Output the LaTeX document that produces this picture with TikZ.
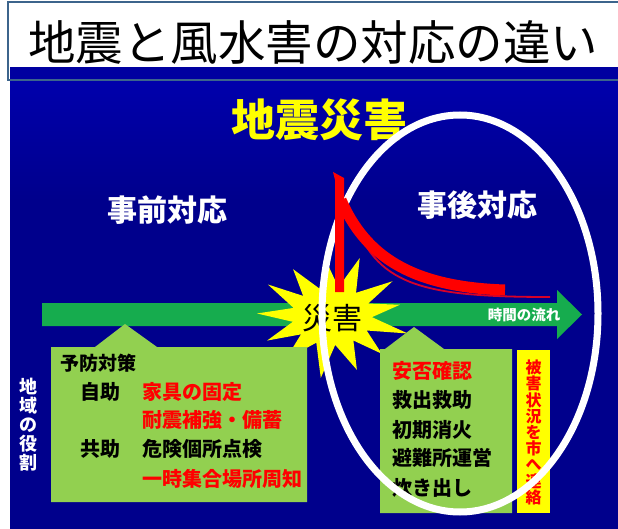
\documentclass[tikz,border=0pt]{standalone}
\usepackage{fontspec}
\newfontfamily\jp{Noto Sans CJK JP}
\definecolor{bgblue}{RGB}{0,0,140}
\definecolor{bgtop}{RGB}{0,0,172}
\definecolor{bandblue}{RGB}{0,0,160}
\definecolor{framecol}{RGB}{60,100,140}
\definecolor{arrowgreen}{RGB}{22,172,78}
\definecolor{boxgreen}{RGB}{146,208,80}
\definecolor{staryellow}{RGB}{255,255,0}
\definecolor{hotred}{RGB}{255,0,0}
\definecolor{darkred}{RGB}{215,0,40}
\tikzset{
  txt/.style={inner sep=0pt, font=\jp},
  boxtxt/.style={txt, anchor=west, font=\jp\bfseries\fontsize{20}{20}\selectfont},
  vtxt/.style={txt, align=center},
}
\begin{document}
\begin{tikzpicture}[x=1pt,y=-1pt]
\useasboundingbox (0,0) rectangle (618,529);
\fill[white] (0,0) rectangle (618,529);
% background
\fill[bgblue] (10,67) rectangle (618,529);
\shade[top color=bgtop, bottom color=bgblue] (10,80) rectangle (618,200);
\fill[bandblue] (10,67) rectangle (618,80);
\draw[framecol, line width=1.2] (640,2) -- (8,2) -- (8,80) -- (640,80);
% title
\node[txt, font=\jp\fontsize{47.5}{47.5}\selectfont] (title) at (313,42) {地震と風水害の対応の違い};
\node[txt, font=\jp\bfseries\fontsize{44}{44}\selectfont, text=staryellow] (head) at (319,120) {地震災害};
\node[txt, font=\jp\bfseries\fontsize{30}{30}\selectfont, text=white] (pre) at (167,210) {事前対応};
\node[txt, font=\jp\bfseries\fontsize{30}{30}\selectfont, text=white] (post) at (477,205) {事後対応};
% time arrow
\fill[arrowgreen] (42,303) -- (557,303) -- (557,290) -- (582,314.5) -- (557,339) -- (557,326) -- (42,326) -- cycle;
\node[txt, font=\jp\bfseries\fontsize{14.5}{14.5}\selectfont, text=white] (time) at (524,315) {時間の流れ};
% star
\fill[staryellow] plot[samples at={0,...,25}, variable=\k]
  ({332+(mod(\k,2)==0 ? 74+5*sin(\k*97) : 40)*cos(150-\k*360/26)},
   {316-(mod(\k,2)==0 ? 58+5*cos(\k*61) : 29)*sin(150-\k*360/26)}) -- cycle;
\node[txt, font=\jp\fontsize{30}{30}\selectfont, text=black] (disaster) at (332,318) {災害};
% left callout box
\fill[boxgreen] (51,347) -- (95,347) -- (125,324) -- (157,347) -- (307,347) -- (307,502) -- (51,502) -- cycle;
\node[boxtxt, font=\jp\bfseries\fontsize{19}{19}\selectfont] (yobo) at (60,363) {予防対策};
\node[boxtxt] (jijo) at (80,392) {自助};
\node[boxtxt, text=hotred] (kagu) at (142,392) {家具の固定};
\node[boxtxt, text=hotred] (taishin) at (142,420) {耐震補強・備蓄};
\node[boxtxt] (kyojo) at (80,449) {共助};
\node[boxtxt] (kiken) at (142,449) {危険個所点検};
\node[boxtxt, text=hotred] (ichiji) at (142,479) {一時集合場所周知};
% right callout box
\fill[boxgreen] (380,349) -- (385,349) -- (414,327) -- (444,349) -- (512,349) -- (512,513) -- (380,513) -- cycle;
\node[boxtxt, text=hotred] (anpi) at (392,371) {安否確認};
\node[boxtxt] (kyushutsu) at (392,400) {救出救助};
\node[boxtxt] (shoki) at (392,430) {初期消火};
\node[boxtxt] (hinan) at (392,458) {避難所運営};
\node[boxtxt] (takidashi) at (392,488) {炊き出し};
% yellow report box
\fill[staryellow] (517,350) rectangle (550,513);
\node[vtxt, font=\jp\bfseries\fontsize{16}{16.2}\selectfont, text=hotred] (report) at (533.5,432.5) {被\\害\\状\\況\\を\\市\\へ\\連\\絡};
% left vertical label
\node[vtxt, font=\jp\bfseries\fontsize{18}{19}\selectfont, text=white] (role) at (28,425) {地\\域\\の\\役\\割};
% white ellipse
\draw[white, line width=7] (460,313.5) ellipse [x radius=138, y radius=198.5];
% red curves
\draw[darkred, line width=1.8] (352,215) .. controls (375,285) and (420,297) .. (550,297);
\draw[hotred, line width=11] (341,200) .. controls (365,255) and (410,287) .. (505,290);
\fill[hotred] (333,172) -- (344,178) -- (344,292) -- (335,292) -- (335,180) -- cycle;
\end{tikzpicture}
\end{document}
